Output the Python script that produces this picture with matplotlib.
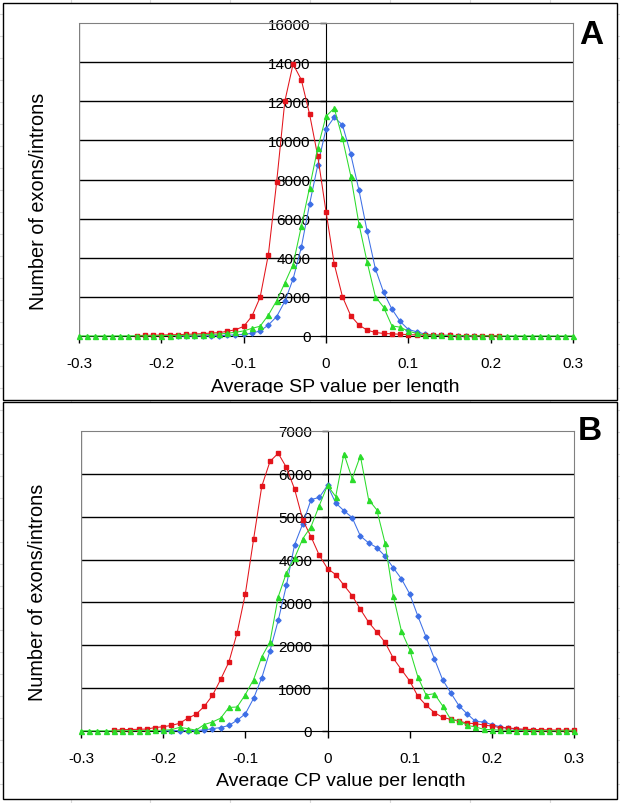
import numpy as np
import matplotlib
matplotlib.use('Agg')
import matplotlib.pyplot as plt
from matplotlib.patches import Rectangle
from matplotlib.lines import Line2D
from matplotlib.transforms import Bbox

plt.rcParams['font.family'] = ['Liberation Sans', 'DejaVu Sans']

nan = np.nan

# bins: -0.30 .. 0.30 step 0.01
bins = np.round(np.arange(-30, 31) * 0.01, 2)

# ---- panel A (SP) ----
sp_red = [nan] * 7 + [
    25, 30, 40, 50, 60, 70, 85, 100, 120, 150, 170, 240, 320, 490, 1010, 1980,
    4160, 7850, 12000, 13900, 13100, 11350, 9190, 6360, 3680, 2010, 1040, 560,
    300, 180, 130, 110, 90, 70, 55, 45, 40, 35, 30, 25, 25, 20, 20, 15, 15,
] + [nan] * 9
sp_green = [5, 5, 5, 5, 5, 8, 10, 10, 12, 15, 20] + [
    25, 30, 35, 45, 60, 80, 100, 140, 190, 260, 390, 500, 1070, 1800, 2710,
    3650, 5600, 7580, 9610, 11230, 11650, 10100, 8200, 5730, 3770, 2010, 1470,
    520, 450, 250, 130, 60, 40, 30, 25, 20, 15, 12, 10, 8,
] + [5] * 10
sp_blue = [nan] * 12 + [
    5, 8, 10, 12, 15, 20, 40, 60, 80, 140, 260, 560, 990, 1770, 2910, 4530,
    6730, 8740, 10580, 11180, 10790, 9300, 7460, 5350, 3430, 2230, 1380, 750,
    330, 220, 100, 60, 40, 30, 20, 15, 10,
] + [nan] * 12

# ---- panel B (CP) ----
cp_red = [nan] * 4 + [
    20, 30, 35, 40, 45, 80, 100, 130, 180, 300, 390, 575, 830, 1205, 1610,
    2290, 3200, 4470, 5710, 6290, 6480, 6150, 5640, 4920, 4530, 4100,
    3790, 3650, 3400, 3160, 2840, 2540, 2310, 2070, 1700, 1430, 1170, 810, 600,
    430, 320, 270, 230, 185, 170, 140, 115, 80, 70, 55, 40, 35, 30, 25, 20, 20,
    15,
]
cp_green = [5, 5, 5, 5, 5, 5, 8, 10, 10, 12] + [
    20, 30, 85, 55, 20, 150, 210, 300, 550, 560, 850, 1200, 1730, 2080, 3130,
    3690, 4040, 4490, 4770, 5260, 5730, 5470, 6470, 5890, 6420, 5400, 5160,
    4390, 3160, 2330, 1900, 1260, 840, 870, 590, 270, 245, 130, 95, 40, 30, 20,
    15,
] + [10, 10, 8, 8, 5, 5, 5, 5]
cp_blue = [nan] * 10 + [
    5, 8, 10, 10, 10, 25, 55, 80, 130, 250, 400, 760, 1240, 1870, 2580, 3400,
    4350, 4840, 5400, 5450, 5730, 5320, 5140, 4980, 4550, 4390, 4280, 4080,
    3810, 3550, 3200, 2680, 2190, 1690, 1200, 890, 590, 400, 225, 210, 150, 100,
    60, 40, 25, 15,
] + [nan] * 5

x_ticks = [-0.3, -0.2, -0.1, 0, 0.1, 0.2, 0.3]
x_tick_labels = ['-0.3', '-0.2', '-0.1', '0', '0.1', '0.2', '0.3']
sp_y_ticks = list(range(0, 16001, 2000))
cp_y_ticks = list(range(0, 7001, 1000))

RED = '#e3141b'
GREEN = '#2bdc2b'
BLUE = '#3d6fe6'

W, H = 620, 804
fig = plt.figure(figsize=(W / 100, H / 100), dpi=100)
fig.patch.set_facecolor('white')


def fx(px):
    return px / W


def fy(py):
    return 1 - py / H


# faint spreadsheet grid behind the chart
for cx in [71, 150, 230, 310, 390, 470, 550]:
    fig.add_artist(Line2D([fx(cx), fx(cx)], [0, 1], color='#d8d8d8', lw=0.8, zorder=0))
for ry in range(15, H, 22):
    fig.add_artist(Line2D([0, 1], [fy(ry), fy(ry)], color='#d8d8d8', lw=0.8, zorder=0))

# chart frames
for top, bot in [(4, 401), (403, 800)]:
    fig.add_artist(Rectangle((fx(3), fy(bot)), fx(614), (bot - top) / H,
                             facecolor='white', edgecolor='black', lw=1.0, zorder=1))


def draw_panel(box, red, green, blue, y_ticks, xlabel, letter, xlab_pos, ylab_pos, letter_pos, clip_y):
    l, t, r, b = box
    ax = fig.add_axes([fx(l), fy(b), (r - l) / W, (b - t) / H])
    ax.set_zorder(2)
    ax.patch.set_alpha(0)
    ax.set_xlim(-0.3, 0.3)
    ax.set_ylim(y_ticks[0], y_ticks[-1])

    # horizontal gridlines (not at 0 or the top border)
    ax.hlines(y_ticks[1:-1], -0.3, 0.3, color='black', lw=1.0, zorder=1)
    ax.axvline(-0.3, color='#808080', lw=1.0, zorder=1)

    for sp in ['top', 'right']:
        ax.spines[sp].set_color('#808080')
    ax.spines['left'].set_position(('data', 0))
    ax.spines['left'].set_color('black')
    ax.spines['bottom'].set_color('black')

    ax.set_xticks(x_ticks)
    ax.set_xticklabels(x_tick_labels)
    ax.set_yticks(y_ticks)
    ax.set_yticklabels([str(v) for v in y_ticks])
    ax.tick_params(axis='y', direction='out', length=4, width=1, pad=7, labelsize=11)
    ax.tick_params(axis='x', direction='out', length=5, width=1, pad=9.5, labelsize=11)

    ax.plot(bins, blue, color=BLUE, lw=0.75, marker='D', ms=2.6, mec=BLUE, mfc=BLUE,
            clip_on=False, zorder=3)
    ax.plot(bins, red, color=RED, lw=0.75, marker='s', ms=2.8, mec=RED, mfc=RED,
            clip_on=False, zorder=3)
    ax.plot(bins, green, color=GREEN, lw=0.75, marker='^', ms=3.6, mec=GREEN, mfc=GREEN,
            clip_on=False, zorder=3)

    # axis titles
    xl = fig.text(fx(xlab_pos[0]), fy(xlab_pos[1]), xlabel, ha='center', va='baseline',
                  fontsize=14, zorder=5)
    xl.set_clip_on(True)
    xl.set_clip_box(Bbox([[0, (H - clip_y)], [W, H]]))
    fig.text(fx(ylab_pos[0]), fy(ylab_pos[1]), 'Number of exons/introns', ha='center',
             va='center', rotation=90, fontsize=14.3, zorder=5)
    fig.text(fx(letter_pos[0]), fy(letter_pos[1]), letter, ha='center', va='center',
             fontsize=24, fontweight='bold', zorder=5)
    return ax


draw_panel((79, 24, 573, 337), sp_red, sp_green, sp_blue, sp_y_ticks,
           'Average SP value per length', 'A', (335, 392), (39, 201), (591, 35), 394)
draw_panel((81, 432, 574, 732), cp_red, cp_green, cp_blue, cp_y_ticks,
           'Average CP value per length', 'B', (341, 786), (38, 592), (590, 432), 788)

fig.savefig('out.png', dpi=100, facecolor='white')
